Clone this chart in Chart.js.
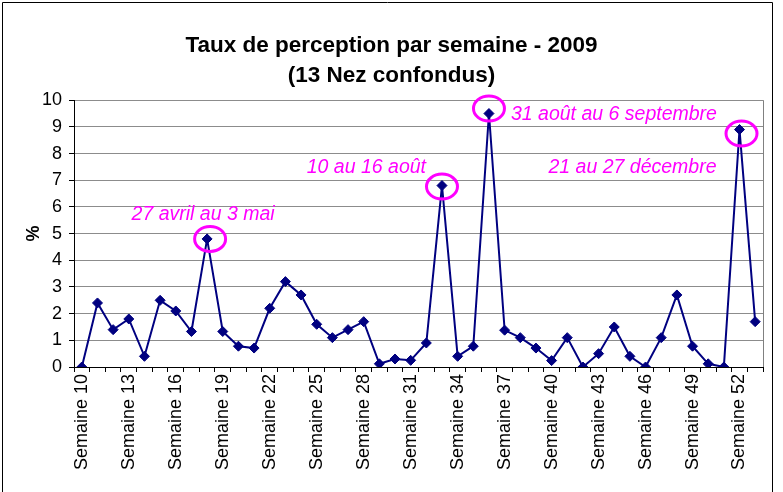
<!DOCTYPE html>
<html>
<head>
<meta charset="utf-8">
<script src="https://cdn.jsdelivr.net/npm/chart.js@4/dist/chart.umd.min.js"></script>
<style>
    html, body { margin: 0; padding: 0; background: #fff; }
    #wrap { width: 783px; height: 492px; }
</style>
</head>
<body>
<div id="wrap"><canvas id="tauxChart" width="783" height="492"></canvas></div>
<script>
// Semaines 10 à 53
const weeks = [10, 11, 12, 13, 14, 15, 16, 17, 18, 19, 20, 21, 22, 23, 24, 25, 26, 27, 28, 29, 30, 31,
               32, 33, 34, 35, 36, 37, 38, 39, 40, 41, 42, 43, 44, 45, 46, 47, 48, 49, 50, 51, 52, 53];
const taux = [0, 2.4, 1.4, 1.8, 0.4, 2.5, 2.1, 1.33, 4.8, 1.33, 0.78, 0.71, 2.2, 3.2, 2.7, 1.6, 1.1, 1.4, 1.7, 0.12, 0.3, 0.25,
              0.9, 6.8, 0.4, 0.78, 9.5, 1.38, 1.1, 0.71, 0.24, 1.1, 0, 0.5, 1.5, 0.4, 0, 1.1, 2.7, 0.78, 0.12, 0, 8.9, 1.7];
const yTicks = [0, 1, 2, 3, 4, 5, 6, 7, 8, 9, 10];
const noteWeeks = [18, 33, 36, 52];
const noteTexts = ['27 avril au 3 mai', '10 au 16 août', '31 août au 6 septembre', '21 au 27 décembre'];

const labels = weeks.map(w => 'Semaine ' + w);
const FONT = "Arial, 'Liberation Sans', sans-serif";
const MAGENTA = '#ff00ff';

// placement des textes / cercles autour des pics (relatif au point)
const notePlacement = [
    { ex: 3, ey: 0, tx: -4, ty: -24, align: 'center' },
    { ex: 0, ey: 1, tx: -16, ty: -18, align: 'right' },
    { ex: 0, ey: -5, tx: 22, ty: 1, align: 'left' },
    { ex: 2, ey: 4, tx: -23, ty: 38, align: 'right' }
];

const decorPlugin = {
    id: 'decor',
    beforeDraw(chart) {
        const ctx = chart.ctx;
        ctx.save();
        ctx.fillStyle = '#ffffff';
        ctx.fillRect(0, 0, chart.width, chart.height);
        ctx.restore();
    },
    beforeDatasetsDraw(chart) {
        const ctx = chart.ctx;
        const a = chart.chartArea;
        ctx.save();
        ctx.strokeStyle = '#808080';
        ctx.lineWidth = 1;
        ctx.beginPath();
        ctx.moveTo(Math.round(a.right) + 0.5, a.top);
        ctx.lineTo(Math.round(a.right) + 0.5, a.bottom);
        ctx.stroke();
        ctx.restore();
    },
    afterDraw(chart) {
        const ctx = chart.ctx;
        const xs = chart.scales.x;
        const ys = chart.scales.y;
        ctx.save();
        // cadre extérieur
        ctx.strokeStyle = '#000000';
        ctx.lineWidth = 1;
        ctx.beginPath();
        ctx.moveTo(2.5, chart.height + 2);
        ctx.lineTo(2.5, 2.5);
        ctx.lineTo(772.5, 2.5);
        ctx.lineTo(772.5, chart.height + 2);
        ctx.stroke();

        // cercles + textes
        noteWeeks.forEach((w, k) => {
            const i = weeks.indexOf(w);
            const px = xs.getPixelForValue(i);
            const py = ys.getPixelForValue(taux[i]);
            const p = notePlacement[k];
            ctx.strokeStyle = MAGENTA;
            ctx.lineWidth = 3;
            ctx.beginPath();
            ctx.ellipse(px + p.ex, py + p.ey, 15.5, 12.5, 0, 0, Math.PI * 2);
            ctx.stroke();

            ctx.fillStyle = MAGENTA;
            ctx.font = 'italic 19.5px ' + FONT;
            ctx.textAlign = p.align;
            ctx.textBaseline = 'middle';
            ctx.fillText(noteTexts[k], px + p.tx, py + p.ty);
        });
        ctx.restore();
    }
};

const ctx = document.getElementById('tauxChart').getContext('2d');
const tauxChart = new Chart(ctx, {
    type: 'line',
    data: {
        labels: labels,
        datasets: [{
            data: taux,
            borderColor: '#000080',
            backgroundColor: '#000080',
            borderWidth: 2,
            pointStyle: 'rectRot',
            pointRadius: 5,
            pointBorderWidth: 1,
            tension: 0,
            fill: false
        }]
    },
    options: {
        responsive: false,
        animation: false,
        layout: { padding: { left: 20, right: 20, top: 0, bottom: 0 } },
        plugins: {
            legend: { display: false },
            tooltip: { enabled: false },
            title: {
                display: true,
                text: ['Taux de perception par semaine - 2009', '(13 Nez confondus)'],
                color: '#000',
                font: { family: FONT, size: 22.5, weight: 'bold', lineHeight: 1.36 },
                padding: { top: 30, bottom: 9 }
            }
        },
        scales: {
            x: {
                type: 'category',
                offset: true,
                afterFit: (scale) => { scale.height = 125; },
                grid: {
                    offset: true,
                    drawOnChartArea: false,
                    drawTicks: true,
                    tickLength: 5,
                    tickColor: '#000'
                },
                border: { color: '#000', width: 1 },
                ticks: {
                    autoSkip: false,
                    maxRotation: 90,
                    minRotation: 90,
                    padding: 2,
                    color: '#000',
                    font: { family: FONT, size: 18 },
                    callback: (v, i) => (i % 3 === 0 ? labels[i] : '')
                }
            },
            y: {
                min: 0,
                max: 10,
                afterFit: (scale) => { scale.width = 54; },
                afterBuildTicks: (scale) => { scale.ticks = yTicks.map(v => ({ value: v })); },
                grid: {
                    color: '#8c8c8c',
                    tickColor: '#000',
                    tickLength: 5
                },
                border: { color: '#000', width: 1 },
                ticks: {
                    padding: 7,
                    color: '#000',
                    font: { family: FONT, size: 18 }
                },
                title: {
                    display: true,
                    text: '%',
                    color: '#000',
                    font: { family: FONT, size: 18, weight: 'bold' },
                    padding: { top: 3, bottom: 0 }
                }
            }
        }
    },
    plugins: [decorPlugin]
});
</script>
</body>
</html>
